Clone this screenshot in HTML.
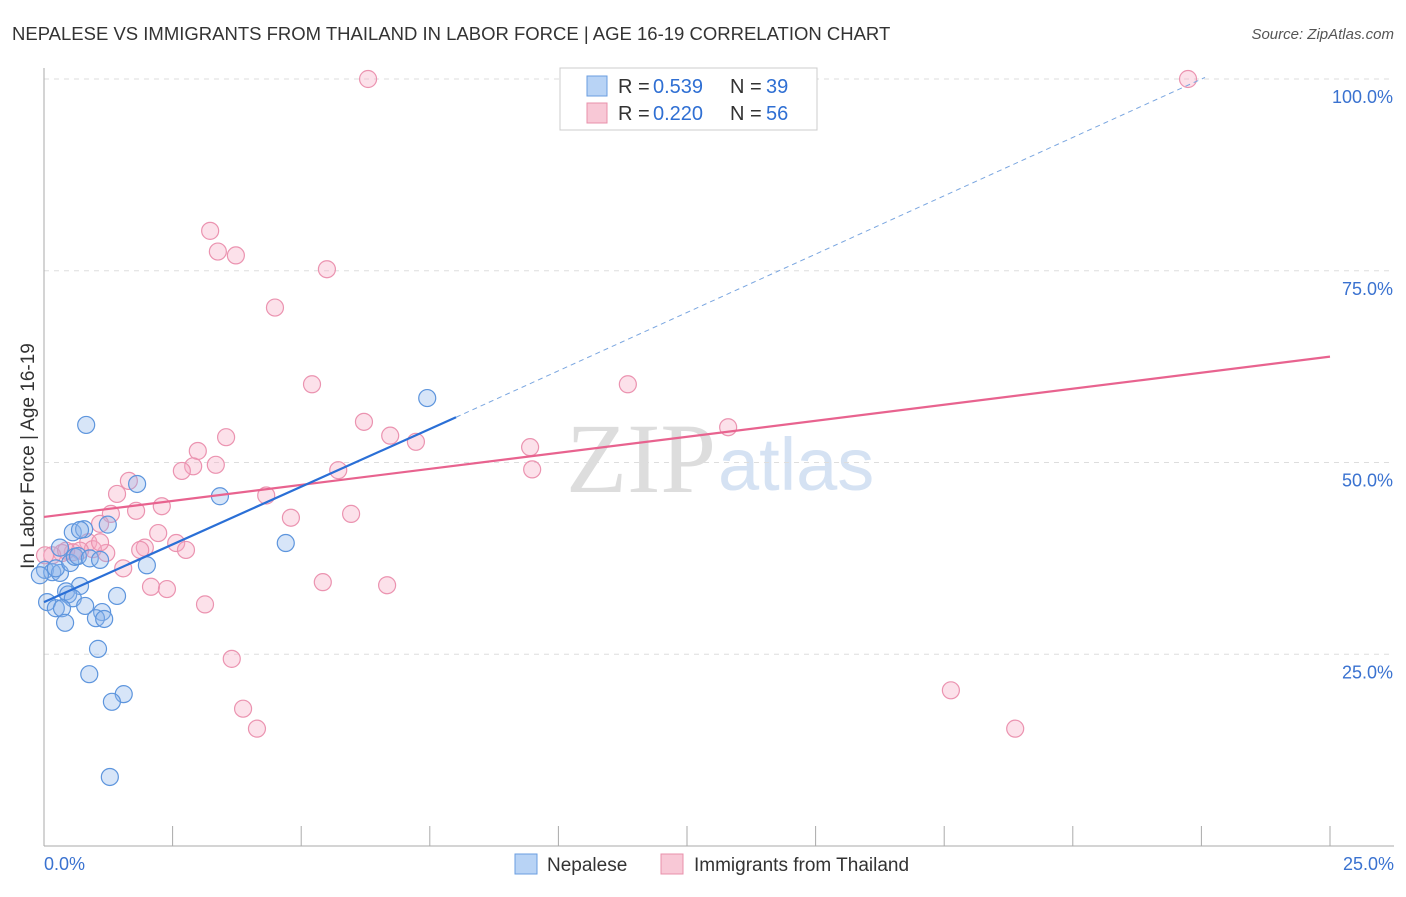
<!DOCTYPE html>
<html><head><meta charset="utf-8"><style>
body{margin:0;background:#fff;font-family:"Liberation Sans",sans-serif;}
</style></head><body>
<svg width="1406" height="892">
<text x="12" y="40" font-size="18.5" fill="#333">NEPALESE VS IMMIGRANTS FROM THAILAND IN LABOR FORCE | AGE 16-19 CORRELATION CHART</text>
<text x="1394" y="39" font-size="15" fill="#555" font-style="italic" text-anchor="end">Source: ZipAtlas.com</text>
<text x="0" y="0" transform="translate(34,456) rotate(-90)" font-size="19" fill="#333" text-anchor="middle">In Labor Force | Age 16-19</text>
<text x="716" y="492" font-size="100" fill="#ddd" font-family="Liberation Serif,serif" text-anchor="end">ZIP</text>
<text x="718" y="490" font-size="74" fill="#d5e2f3" text-anchor="start">atlas</text>
<g id="grid"></g><g id="axes"></g><g id="pts"></g><g id="lines"></g>
<g>
<rect x="560" y="68" width="257" height="62" fill="#fff" stroke="#ccc"/>
<rect x="587" y="76" width="20" height="20" fill="#b8d3f5" stroke="#6a9ee0"/>
<rect x="587" y="103" width="20" height="20" fill="#f8c8d6" stroke="#e890ab"/>
<text x="618" y="93" font-size="20" fill="#333">R = </text>
<text x="653" y="93" font-size="20" fill="#2f6fd3">0.539</text>
<text x="730" y="93" font-size="20" fill="#333">N = </text>
<text x="766" y="93" font-size="20" fill="#2f6fd3">39</text>
<text x="618" y="120" font-size="20" fill="#333">R = </text>
<text x="653" y="120" font-size="20" fill="#2f6fd3">0.220</text>
<text x="730" y="120" font-size="20" fill="#333">N = </text>
<text x="766" y="120" font-size="20" fill="#2f6fd3">56</text>
</g>
<g>
<rect x="515" y="854" width="22" height="20" fill="#b8d3f5" stroke="#6a9ee0"/>
<text x="547" y="871" font-size="19" fill="#333">Nepalese</text>
<rect x="661" y="854" width="22" height="20" fill="#f8c8d6" stroke="#e890ab"/>
<text x="694" y="871" font-size="19" fill="#333">Immigrants from Thailand</text>
</g>
</svg>
<script>
const yTicks=[25,50,75,100];
const yTickLabels=["25.0%","50.0%","75.0%","100.0%"];
const xTickLabels=["0.0%","25.0%"];
const blueX=[0.82,1.81,3.42,1.24,0.56,0.78,0.02,0.16,0.31,0.23,0.51,0.6,0.66,0.89,0.7,0.43,0.47,0.56,0.06,0.23,0.35,0.8,1.13,1.01,1.17,1.42,2.0,0.41,1.05,0.88,1.55,1.32,1.28,4.7,7.45,0.7,0.31,1.09,-0.08];
const blueY=[54.9,47.2,45.6,41.9,40.9,41.3,36.0,35.7,35.6,36.2,36.9,37.7,37.8,37.5,33.9,33.2,32.8,32.3,31.8,31.0,31.0,31.3,30.5,29.7,29.6,32.6,36.6,29.1,25.7,22.4,19.8,18.8,9.0,39.5,58.4,41.2,38.9,37.3,35.3];
const pinkX=[6.3,22.24,3.23,3.38,3.73,5.5,4.49,5.21,11.35,6.22,6.73,7.23,13.3,9.45,9.49,3.54,2.99,2.9,2.68,3.34,5.72,1.65,1.42,2.29,4.32,1.3,1.79,1.09,2.22,4.8,5.97,2.57,1.96,2.76,1.87,1.21,0.86,0.95,0.56,0.35,0.16,0.02,1.54,2.08,2.39,5.42,6.67,3.13,3.65,3.87,4.14,17.63,18.88,0.7,0.43,1.09];
const pinkY=[100,100,80.2,77.5,77.0,75.2,70.2,60.2,60.2,55.3,53.5,52.7,54.6,52.0,49.1,53.3,51.5,49.5,48.9,49.7,49.0,47.6,45.9,44.3,45.7,43.3,43.7,42.0,40.8,42.8,43.3,39.5,38.9,38.6,38.6,38.2,39.6,38.7,38.3,38.2,37.9,37.9,36.2,33.8,33.5,34.4,34.0,31.5,24.4,17.9,15.3,20.3,15.3,38.5,38.5,39.6];
const blueLine=[[0,31.8],[8.01,55.9]], blueDash=[[8.01,55.9],[22.57,100.2]], pinkLine=[[0,42.9],[25,63.8]];
const X=v=>44+v*51.44, Y=v=>846-v*7.67;
const NS="http://www.w3.org/2000/svg";
function mk(t,a,p){const e=document.createElementNS(NS,t);for(const k in a)e.setAttribute(k,a[k]);p.appendChild(e);return e;}
const grid=document.getElementById('grid'),axes=document.getElementById('axes'),pts=document.getElementById('pts'),lines=document.getElementById('lines');
yTicks.forEach((t,i)=>{
 const l=mk('line',{x1:44,x2:1394,y1:Y(t),y2:Y(t),stroke:'#ddd','stroke-dasharray':'5,5'},grid);
 
 
 const tx=mk('text',{x:1393,y:Y(t)+24,'font-size':18,fill:'#3a72d0','text-anchor':'end'},axes);tx.textContent=yTickLabels[i];
 
 
});
const ya=mk('line',{x1:44,x2:44,y1:68,y2:846,stroke:'#aaa'},axes);


const xa=mk('line',{x1:44,x2:1394,y1:846,y2:846,stroke:'#aaa'},axes);


for(let i=0;i<=10;i++){const tk=mk('line',{x1:X(i*2.5),x2:X(i*2.5),y1:826,y2:846,stroke:'#aaa'},axes);
 
 }
[[0,'start',44],[1,'end',1394]].forEach(([i,a,x])=>{const t=mk('text',{x:x,y:870,'font-size':18,fill:'#3a72d0','text-anchor':a},axes);t.textContent=xTickLabels[i];
 
 });
pinkX.forEach((v,i)=>{const c=mk('circle',{cx:X(v),cy:Y(pinkY[i]),r:8.5,fill:'rgba(246,170,195,0.35)',stroke:'#eb93b0','stroke-width':1.2},pts);
 
 });
blueX.forEach((v,i)=>{const c=mk('circle',{cx:X(v),cy:Y(blueY[i]),r:8.5,fill:'rgba(140,180,235,0.35)',stroke:'#5d95dd','stroke-width':1.2},pts);
 
 });
const L=(p,c,w,d,n)=>{const l=mk('line',{x1:X(p[0][0]),y1:Y(p[0][1]),x2:X(p[1][0]),y2:Y(p[1][1]),stroke:c,'stroke-width':w},lines);if(d)l.setAttribute('stroke-dasharray',d);
 
 };
L(pinkLine,'#e8638f',2.2,null,'thailand-trendline');
L(blueLine,'#2a6fd6',2.2,null,'nepalese-trendline');
L(blueDash,'#7aa6e0',1,'5,4','nepalese-trendline-extension');
</script>
</body></html>
